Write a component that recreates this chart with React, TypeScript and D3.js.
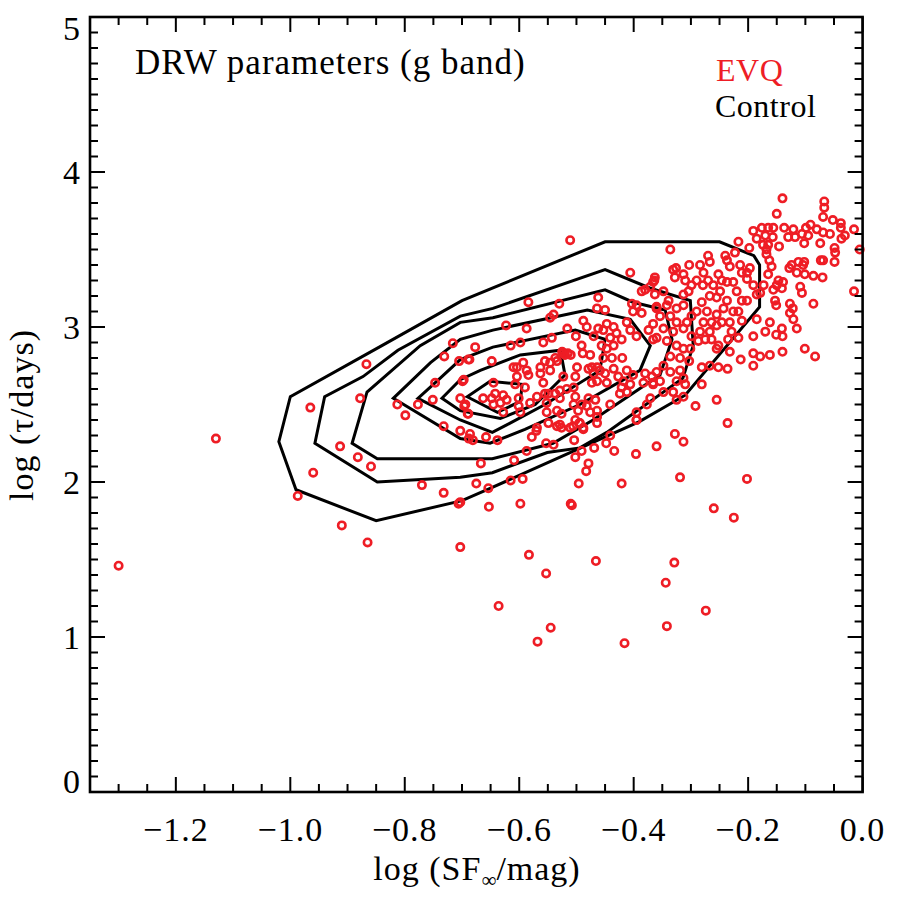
import React, { useEffect, useRef } from 'react';
import * as d3 from 'd3';

// tick values
const xTicks = [-1.2, -1.0, -0.8, -0.6, -0.4, -0.2, 0.0];
const yTicks = [0, 1, 2, 3, 4, 5];

// Control sample density contours, outer -> inner, [log SF, log tau]
const contour1 = [[-1.00, 2.55], [-1.02, 2.26], [-0.99, 1.95], [-0.85, 1.75], [-0.70, 1.88], [-0.65, 1.96], [-0.39, 2.39], [-0.31, 2.56], [-0.18, 3.13], [-0.18, 3.40], [-0.19, 3.46], [-0.25, 3.55], [-0.45, 3.55], [-0.70, 3.17], [-0.84, 2.88]];
const contour2 = [[-0.94, 2.55], [-0.957, 2.25], [-0.848, 2.00], [-0.703, 2.03], [-0.647, 2.06], [-0.551, 2.19], [-0.494, 2.22], [-0.447, 2.32], [-0.314, 2.67], [-0.296, 2.88], [-0.301, 3.17], [-0.371, 3.25], [-0.450, 3.37], [-0.646, 3.12], [-0.703, 3.07], [-0.812, 2.85], [-0.873, 2.68]];
const contour3 = [[-0.866, 2.58], [-0.892, 2.25], [-0.848, 2.15], [-0.686, 2.15], [-0.647, 2.15], [-0.541, 2.25], [-0.471, 2.40], [-0.354, 2.69], [-0.333, 2.92], [-0.345, 3.11], [-0.401, 3.16], [-0.450, 3.24], [-0.646, 3.06], [-0.703, 3.03], [-0.773, 2.88]];
const contour4 = [[-0.820, 2.54], [-0.703, 2.28], [-0.651, 2.25], [-0.590, 2.34], [-0.494, 2.50], [-0.389, 2.72], [-0.371, 2.88], [-0.406, 3.05], [-0.481, 3.11], [-0.646, 2.98], [-0.703, 2.92], [-0.755, 2.77]];
const contour5 = [[-0.777, 2.54], [-0.703, 2.40], [-0.647, 2.32], [-0.621, 2.37], [-0.555, 2.50], [-0.459, 2.72], [-0.450, 2.92], [-0.502, 2.98], [-0.646, 2.87], [-0.703, 2.79], [-0.738, 2.67]];
const contour6 = [[-0.735, 2.54], [-0.703, 2.46], [-0.633, 2.41], [-0.572, 2.50], [-0.520, 2.69], [-0.528, 2.85], [-0.598, 2.82], [-0.668, 2.72], [-0.703, 2.66]];
const contour7 = [[-0.691, 2.55], [-0.638, 2.45], [-0.598, 2.52], [-0.595, 2.63], [-0.651, 2.65]];
const contours = [contour1, contour2, contour3, contour4, contour5, contour6, contour7];

// EVQ sample, [log SF_inf, log tau]
const evqPoints = [
  [-1.30, 1.46], [-1.13, 2.28], [-0.965, 2.48], [-0.96, 2.06], [-0.987, 1.91], [-0.91, 1.72], [-0.913, 2.23], [-0.882, 2.16], [-0.859, 2.10], [-0.865, 1.61], [-0.867, 2.76],
  [-0.716, 2.895], [-0.731, 2.81], [-0.705, 2.78], [-0.689, 2.79], [-0.747, 2.64], [-0.699, 2.65], [-0.878, 2.54], [-0.813, 2.50], [-0.777, 2.50], [-0.751, 2.53], [-0.799, 2.43], [-0.732, 2.36], [-0.703, 2.33], [-0.696, 2.49], [-0.690, 2.44], [-0.688, 2.28], [-0.770, 1.98], [-0.732, 1.93], [-0.706, 1.86],
  [-0.686, 2.31], [-0.681, 2.27], [-0.658, 2.29], [-0.638, 2.27], [-0.578, 2.29], [-0.570, 2.33], [-0.534, 2.36], [-0.526, 2.35], [-0.506, 2.36], [-0.495, 2.38], [-0.488, 2.34], [-0.504, 2.27], [-0.553, 2.25], [-0.540, 2.24], [-0.587, 2.20], [-0.609, 2.14], [-0.667, 2.12], [-0.491, 2.20], [-0.502, 2.16], [-0.469, 2.22], [-0.441, 2.30], [-0.448, 2.25], [-0.434, 2.20], [-0.395, 2.40], [-0.396, 2.18], [-0.360, 2.23], [-0.479, 2.12], [-0.483, 2.07], [-0.496, 1.99], [-0.421, 1.99], [-0.675, 1.99], [-0.654, 1.96], [-0.615, 2.01], [-0.594, 2.02], [-0.703, 1.87], [-0.653, 1.84], [-0.598, 1.86], [-0.510, 1.86], [-0.508, 1.85], [-0.703, 1.58], [-0.583, 1.53], [-0.553, 1.41], [-0.466, 1.49], [-0.636, 1.20], [-0.545, 1.06], [-0.568, 0.97], [-0.416, 0.96],
  [-0.325, 2.53], [-0.313, 2.55], [-0.371, 2.54], [-0.292, 2.49], [-0.255, 2.53], [-0.236, 2.38], [-0.328, 2.31], [-0.313, 2.26], [-0.319, 2.03], [-0.202, 2.02], [-0.260, 1.83], [-0.225, 1.77], [-0.329, 1.48], [-0.344, 1.35], [-0.274, 1.17], [-0.342, 1.07],
  [-0.140, 3.83], [-0.067, 3.81], [-0.067, 3.77], [-0.069, 3.71], [-0.150, 3.73], [-0.052, 3.69], [-0.038, 3.67], [-0.038, 3.64], [-0.091, 3.66], [-0.015, 3.63], [-0.191, 3.62], [-0.176, 3.64], [-0.165, 3.64], [-0.156, 3.64], [-0.137, 3.64], [-0.121, 3.63], [-0.099, 3.64], [-0.080, 3.63], [-0.069, 3.61], [-0.057, 3.60], [-0.037, 3.57], [-0.031, 3.59], [-0.106, 3.60], [-0.130, 3.58], [-0.118, 3.58], [-0.095, 3.59], [-0.185, 3.57], [-0.170, 3.59], [-0.157, 3.58], [-0.174, 3.53], [-0.165, 3.53], [-0.146, 3.52], [-0.102, 3.54], [-0.074, 3.54], [-0.049, 3.51], [-0.005, 3.50], [-0.217, 3.55], [-0.198, 3.51], [-0.336, 3.50], [-0.168, 3.50], [-0.168, 3.47], [-0.163, 3.43], [-0.048, 3.48], [-0.049, 3.42], [-0.073, 3.43], [-0.069, 3.43], [-0.112, 3.42], [-0.102, 3.42], [-0.104, 3.40], [-0.124, 3.40], [-0.128, 3.38], [-0.115, 3.35], [-0.101, 3.34], [-0.086, 3.33], [-0.070, 3.32], [-0.159, 3.39], [-0.165, 3.34], [-0.147, 3.30], [-0.139, 3.29], [-0.150, 3.27], [-0.156, 3.24], [-0.141, 3.25], [-0.109, 3.26], [-0.106, 3.22], [-0.015, 3.23], [-0.086, 3.15], [-0.127, 3.15], [-0.122, 3.12], [-0.153, 3.17], [-0.151, 3.14], [-0.127, 3.09], [-0.121, 3.05], [-0.115, 2.99], [-0.141, 2.99], [-0.140, 2.94], [-0.151, 2.95], [-0.170, 2.97], [-0.162, 3.03], [-0.185, 3.05], [-0.191, 2.94], [-0.211, 3.04], [-0.185, 3.21], [-0.179, 3.22], [-0.173, 3.27], [-0.191, 3.27], [-0.202, 3.31],
  [-0.223, 3.48], [-0.240, 3.46], [-0.237, 3.43], [-0.232, 3.39], [-0.214, 3.40], [-0.211, 3.35], [-0.197, 3.38], [-0.202, 3.35], [-0.246, 3.30], [-0.237, 3.29], [-0.226, 3.29], [-0.220, 3.23], [-0.211, 3.17], [-0.226, 3.10], [-0.217, 3.10], [-0.202, 3.17], [-0.237, 3.17], [-0.243, 3.12], [-0.255, 3.08], [-0.246, 3.03], [-0.249, 3.23], [-0.255, 3.19], [-0.267, 3.20], [-0.270, 3.46], [-0.267, 3.42], [-0.284, 3.40], [-0.278, 3.35], [-0.270, 3.30], [-0.261, 3.27], [-0.252, 3.34], [-0.303, 3.40], [-0.326, 3.38], [-0.328, 3.32], [-0.310, 3.30], [-0.290, 3.30], [-0.279, 3.27], [-0.299, 3.27], [-0.304, 3.23], [-0.313, 3.21], [-0.364, 3.30], [-0.348, 3.23], [-0.339, 3.17], [-0.325, 3.12], [-0.313, 3.14], [-0.281, 3.16], [-0.272, 3.10], [-0.290, 3.10], [-0.299, 3.07], [-0.278, 3.03], [-0.264, 3.03], [-0.255, 3.01], [-0.267, 2.97], [-0.284, 2.97], [-0.275, 2.92], [-0.264, 2.92], [-0.232, 3.03], [-0.229, 2.97], [-0.235, 2.92], [-0.217, 2.93], [-0.252, 2.88], [-0.255, 2.86], [-0.232, 2.84], [-0.213, 2.79], [-0.191, 2.75], [-0.179, 2.81], [-0.162, 2.82], [-0.140, 2.84], [-0.101, 2.86], [-0.083, 2.81], [-0.191, 2.83], [-0.267, 2.75], [-0.252, 2.74], [-0.236, 2.73], [-0.281, 2.74], [-0.281, 2.63], [-0.303, 2.78], [-0.310, 2.63], [-0.325, 2.65], [-0.331, 2.58], [-0.366, 2.63], [-0.360, 2.71], [-0.348, 2.75], [-0.336, 2.81], [-0.319, 2.80], [-0.313, 2.86], [-0.325, 2.88], [-0.342, 2.91], [-0.360, 2.93], [-0.366, 3.02], [-0.348, 2.99], [-0.331, 2.97], [-0.313, 2.99], [-0.307, 3.03], [-0.325, 3.03], [-0.336, 3.07], [-0.354, 3.07], [-0.360, 3.12], [-0.342, 3.14], [-0.363, 3.21], [-0.299, 2.94], [-0.301, 2.86], [-0.287, 2.91], [-0.336, 2.71], [-0.319, 2.72], [-0.354, 2.65], [-0.313, 2.67], [-0.348, 2.58], [-0.331, 3.37], [-0.363, 3.32], [-0.313, 3.34],
  [-0.511, 3.56], [-0.406, 3.35], [-0.366, 3.29], [-0.371, 3.26], [-0.386, 3.23], [-0.380, 3.24], [-0.462, 3.19], [-0.464, 3.12], [-0.450, 3.11], [-0.403, 3.15], [-0.395, 3.14], [-0.386, 3.09], [-0.401, 3.10], [-0.360, 3.13], [-0.584, 3.16], [-0.530, 3.15], [-0.546, 3.06], [-0.540, 3.08], [-0.488, 3.04], [-0.482, 3.00], [-0.462, 2.99], [-0.447, 3.02], [-0.435, 3.00], [-0.412, 3.03], [-0.406, 2.98], [-0.430, 2.96], [-0.623, 3.01], [-0.587, 2.99], [-0.516, 2.99], [-0.501, 2.94], [-0.470, 2.94], [-0.453, 2.98], [-0.441, 2.93], [-0.421, 2.92], [-0.395, 2.94], [-0.374, 2.98], [-0.366, 2.92], [-0.543, 2.93], [-0.558, 2.90], [-0.598, 2.90], [-0.615, 2.88], [-0.677, 2.87], [-0.687, 2.79], [-0.648, 2.78], [-0.697, 2.66],
  [-0.523, 2.83], [-0.520, 2.82], [-0.515, 2.83], [-0.525, 2.84], [-0.510, 2.82], [-0.491, 2.88], [-0.489, 2.83], [-0.476, 2.82], [-0.456, 2.88], [-0.447, 2.86], [-0.435, 2.88], [-0.420, 2.80], [-0.438, 2.80], [-0.453, 2.80], [-0.473, 2.74], [-0.464, 2.74], [-0.459, 2.72], [-0.479, 2.73], [-0.470, 2.70], [-0.450, 2.70], [-0.435, 2.73], [-0.427, 2.68], [-0.412, 2.72], [-0.401, 2.69], [-0.380, 2.70], [-0.383, 2.64], [-0.368, 2.68], [-0.366, 2.64], [-0.418, 2.65], [-0.421, 2.61], [-0.424, 2.57], [-0.412, 2.58], [-0.406, 2.63], [-0.447, 2.64], [-0.464, 2.65], [-0.473, 2.64], [-0.499, 2.74], [-0.502, 2.68], [-0.523, 2.68], [-0.505, 2.61], [-0.502, 2.55], [-0.479, 2.54], [-0.467, 2.53], [-0.482, 2.49], [-0.491, 2.50], [-0.464, 2.46], [-0.476, 2.45], [-0.441, 2.50], [-0.395, 2.45], [-0.395, 2.40], [-0.377, 2.50],
  [-0.529, 2.54], [-0.517, 2.60], [-0.529, 2.59], [-0.549, 2.57], [-0.537, 2.57], [-0.563, 2.74], [-0.546, 2.77], [-0.537, 2.80], [-0.534, 2.78], [-0.555, 2.78], [-0.546, 2.72], [-0.563, 2.70], [-0.584, 2.69], [-0.587, 2.72], [-0.604, 2.74], [-0.610, 2.74], [-0.593, 2.77], [-0.604, 2.68], [-0.607, 2.63], [-0.590, 2.61], [-0.558, 2.64], [-0.569, 2.55], [-0.555, 2.57], [-0.552, 2.51], [-0.581, 2.51], [-0.601, 2.54], [-0.622, 2.53], [-0.645, 2.64], [-0.642, 2.57], [-0.648, 2.54], [-0.628, 2.56], [-0.633, 2.51], [-0.645, 2.50], [-0.663, 2.54], [-0.601, 2.49], [-0.598, 2.45], [-0.628, 2.45], [-0.694, 2.50], [-0.689, 2.44], [-0.703, 2.54], [-0.534, 2.46], [-0.505, 2.50], [-0.497, 2.46], [-0.526, 2.44], [-0.502, 2.40], [-0.494, 2.38], [-0.552, 2.45], [-0.549, 2.38], [-0.529, 2.37], [-0.569, 2.35], [-0.511, 2.35], [-0.488, 2.35], [-0.464, 2.42], [-0.464, 2.38],
];

const RED = '#ee1d25';
const FONT = '"Liberation Serif", "Times New Roman", serif';

const App = () => {
  const svgRef = useRef(null);

  useEffect(() => {
    const svg = d3.select(svgRef.current);
    svg.selectAll('*').remove();

    // plot frame
    const left = 90, right = 862.6, top = 17, bottom = 792;
    const x = d3.scaleLinear().domain([-1.35, 0]).range([left, right]);
    const y = d3.scaleLinear().domain([0, 5]).range([bottom, top]);

    // contours
    const line = d3.line()
      .x(d => x(d[0]))
      .y(d => y(d[1]))
      .curve(d3.curveLinearClosed);

    svg.append('g')
      .selectAll('path')
      .data(contours)
      .enter()
      .append('path')
      .attr('d', d => line(d))
      .attr('fill', 'none')
      .attr('stroke', '#000')
      .attr('stroke-width', 3)
      .attr('stroke-linejoin', 'miter');

    // EVQ points
    svg.append('g')
      .selectAll('circle')
      .data(evqPoints)
      .enter()
      .append('circle')
      .attr('cx', d => x(d[0]))
      .attr('cy', d => y(d[1]))
      .attr('r', 3.7)
      .attr('fill', 'none')
      .attr('stroke', RED)
      .attr('stroke-width', 2.6);

    // frame box
    svg.append('rect')
      .attr('x', left)
      .attr('y', top)
      .attr('width', right - left)
      .attr('height', bottom - top)
      .attr('fill', 'none')
      .attr('stroke', '#000')
      .attr('stroke-width', 2.6);

    // ticks on all four sides
    const ticks = svg.append('g').attr('stroke', '#000').attr('stroke-width', 2);
    const xMinor = d3.range(-27, 1).map(i => i * 0.05);
    const yMinor = d3.range(0, 51).map(i => i / 10);
    const isMajorX = (v) => Math.abs(v * 5 - Math.round(v * 5)) < 1e-6;
    const isMajorY = (v) => Math.abs(v - Math.round(v)) < 1e-6;

    xMinor.forEach(v => {
      const len = isMajorX(v) ? 15 : 8;
      ticks.append('line').attr('x1', x(v)).attr('x2', x(v)).attr('y1', bottom).attr('y2', bottom - len);
      ticks.append('line').attr('x1', x(v)).attr('x2', x(v)).attr('y1', top).attr('y2', top + len);
    });
    yMinor.forEach(v => {
      const len = isMajorY(v) ? 15 : 8;
      ticks.append('line').attr('y1', y(v)).attr('y2', y(v)).attr('x1', left).attr('x2', left + len);
      ticks.append('line').attr('y1', y(v)).attr('y2', y(v)).attr('x1', right).attr('x2', right - len);
    });

    // tick labels
    const fmt = d3.format('.1f');
    svg.append('g')
      .selectAll('text')
      .data(xTicks)
      .enter()
      .append('text')
      .attr('x', d => x(d))
      .attr('y', 841)
      .attr('text-anchor', 'middle')
      .style('font-family', FONT)
      .style('font-size', '34px')
      .style('letter-spacing', '1px')
      .text(d => fmt(d));

    svg.append('g')
      .selectAll('text')
      .data(yTicks)
      .enter()
      .append('text')
      .attr('x', 80)
      .attr('y', d => Math.max(top + 11, Math.min(bottom - 11, y(d))) + 11.5)
      .attr('text-anchor', 'end')
      .style('font-family', FONT)
      .style('font-size', '34px')
      .text(d => d);

    // axis titles
    const xt = svg.append('text')
      .attr('x', 477)
      .attr('y', 880)
      .attr('text-anchor', 'middle')
      .style('font-family', FONT)
      .style('font-size', '34px')
      .style('letter-spacing', '1px');
    xt.append('tspan').text('log (SF');
    xt.append('tspan').attr('dy', 7).style('font-size', '21px').style('letter-spacing', '0px').text('∞');
    xt.append('tspan').attr('dy', -7).text('/mag)');

    svg.append('text')
      .attr('transform', 'translate(33,415) rotate(-90)')
      .attr('text-anchor', 'middle')
      .style('font-family', FONT)
      .style('font-size', '34px')
      .style('letter-spacing', '1px')
      .text('log (τ/days)');

    // title and legend
    svg.append('text')
      .attr('x', 135)
      .attr('y', 74)
      .style('font-family', FONT)
      .style('font-size', '35px')
      .style('letter-spacing', '1px')
      .text('DRW parameters (g band)');

    svg.append('text')
      .attr('x', 716)
      .attr('y', 81)
      .style('font-family', FONT)
      .style('font-size', '32px')
      .style('letter-spacing', '0.5px')
      .style('fill', RED)
      .text('EVQ');

    svg.append('text')
      .attr('x', 715)
      .attr('y', 117)
      .style('font-family', FONT)
      .style('font-size', '32px')
      .style('letter-spacing', '0.5px')
      .style('fill', '#000')
      .text('Control');
  }, []);

  return (
    <svg
      ref={svgRef}
      width={900}
      height={900}
      style={{ position: 'absolute', left: 0, top: 0, background: '#fff' }}
    />
  );
};

export default App;
